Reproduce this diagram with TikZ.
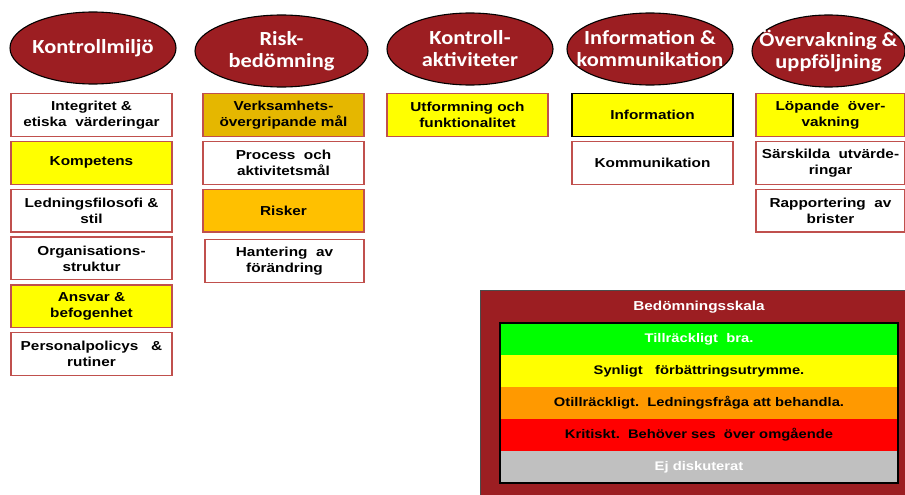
\documentclass[tikz,border=0pt]{standalone}
\usepackage{fontspec}
\usepackage{tikz}
\usetikzlibrary{
  positioning,
  shapes.geometric
}
\newfontfamily\headfont[FakeStretch=1.12]{Carlito}
\newfontfamily\boxfont[FakeStretch=1.18]{Liberation Sans}
\definecolor{HeadRed}{RGB}{156,30,34}
\definecolor{BoxRed}{RGB}{192,80,77}
\definecolor{MarkYellow}{RGB}{255,255,0}
\definecolor{GoalGold}{RGB}{229,183,0}
\definecolor{RiskOrange}{RGB}{255,192,0}
\definecolor{ScaleGreen}{RGB}{0,255,0}
\definecolor{ScaleOrange}{RGB}{255,153,0}
\definecolor{ScaleRed}{RGB}{255,0,0}
\definecolor{ScaleGray}{RGB}{192,192,192}
\tikzset{
  headnode/.style={ellipse,draw=black,line width=1.1pt,fill=HeadRed,text=white,minimum width=166pt,minimum height=72pt,inner xsep=-20pt,inner ysep=-10pt,align=center,font=\headfont\bfseries\fontsize{20}{22}\selectfont},
  itemnode/.style={draw=BoxRed,line width=1.3pt,fill=white,minimum width=161pt,minimum height=42.7pt,inner sep=1pt,align=center,font=\boxfont\bfseries\fontsize{13}{16}\selectfont},
  scalerow/.style={minimum width=398pt,minimum height=32pt,inner sep=0pt,outer sep=0pt,font=\boxfont\bfseries\fontsize{12.5}{15}\selectfont}
}
\begin{document}
\begin{tikzpicture}[x=1pt,y=-1pt,node distance=3.8pt]
\useasboundingbox (0,0) rectangle (905,495);
\clip (0,0) rectangle (905,495);
% column heads
\node[headnode] (kmiljo) at (93,48) {Kontrollmiljö};
\node[headnode, minimum width=173pt] (riskb) at (281.5,51) {Risk-\\bedömning};
\node[headnode] (kakt) at (470,49) {Kontroll-\\aktiviteter};
\node[headnode] (infok) at (650,49) {Information \&\\kommunikation};
\node[headnode, minimum width=153pt] (overv) at (828.5,51) {Övervakning \&\\uppföljning};
% Kontrollmiljö
\node[itemnode, anchor=north] (integ) at (91.5,93) {Integritet \&\\etiska\ \ värderingar};
\node[itemnode, fill=MarkYellow, below=of integ] (kompet) {Kompetens};
\node[itemnode, below=of kompet] (ledfil) {Ledningsfilosofi \&\\stil};
\node[itemnode, below=of ledfil] (orgstr) {Organisations-\\struktur};
\node[itemnode, fill=MarkYellow, below=of orgstr] (ansvar) {Ansvar \&\\befogenhet};
\node[itemnode, below=of ansvar] (perspol) {Personalpolicys\ \ \ \&\\rutiner};
% Riskbedömning
\node[itemnode, fill=GoalGold, anchor=north] (verks) at (283.5,93) {Verksamhets-\\övergripande mål};
\node[itemnode, below=of verks] (procm) {Process\ \ och\\aktivitetsmål};
\node[itemnode, fill=RiskOrange, below=of procm] (risker) {Risker};
\node[itemnode, minimum width=159pt, below=6.5pt of risker, xshift=1pt] (hanter) {Hantering\ \ av\\förändring};
% Kontrollaktiviteter
\node[itemnode, fill=MarkYellow, anchor=north] (utform) at (467.5,93) {Utformning och\\funktionalitet};
% Information & kommunikation
\node[itemnode, draw=black, fill=MarkYellow, anchor=north] (inform) at (652.5,93) {Information};
\node[itemnode, below=of inform] (kommun) {Kommunikation};
% Övervakning & uppföljning
\node[itemnode, fill=MarkYellow, minimum width=149pt, anchor=north] (lopov) at (830.5,93) {Löpande\ \ över-\\vakning};
\node[itemnode, minimum width=149pt, below=of lopov] (sarsk) {Särskilda\ \ utvärde-\\ringar};
\node[itemnode, minimum width=149pt, below=of sarsk] (rapp) {Rapportering\ \ av\\brister};
% bedömningsskala
\node[draw=black!70, fill=HeadRed, anchor=north west, minimum width=440pt, minimum height=220pt, inner sep=0pt] (skala) at (480,290) {};
\node[text=white, font=\boxfont\bfseries\fontsize{13}{15}\selectfont] (skalarub) at (699,307) {Bedömningsskala};
\node[scalerow, fill=ScaleGreen, text=white, anchor=north west] (bra) at (500,323) {Tillräckligt\ \ bra.};
\node[scalerow, fill=MarkYellow, below=0pt of bra] (synl) {Synligt\ \ \ förbättringsutrymme.};
\node[scalerow, fill=ScaleOrange, below=0pt of synl] (otill) {Otillräckligt.\ \ Ledningsfråga att behandla.};
\node[scalerow, fill=ScaleRed, below=0pt of otill] (krit) {Kritiskt.\ \ Behöver ses\ \ över omgående};
\node[scalerow, fill=ScaleGray, text=white, below=0pt of krit] (ejdisk) {Ej diskuterat};
\draw[black, line width=1.3pt] (bra.north west) rectangle (ejdisk.south east);
\end{tikzpicture}
\end{document}
